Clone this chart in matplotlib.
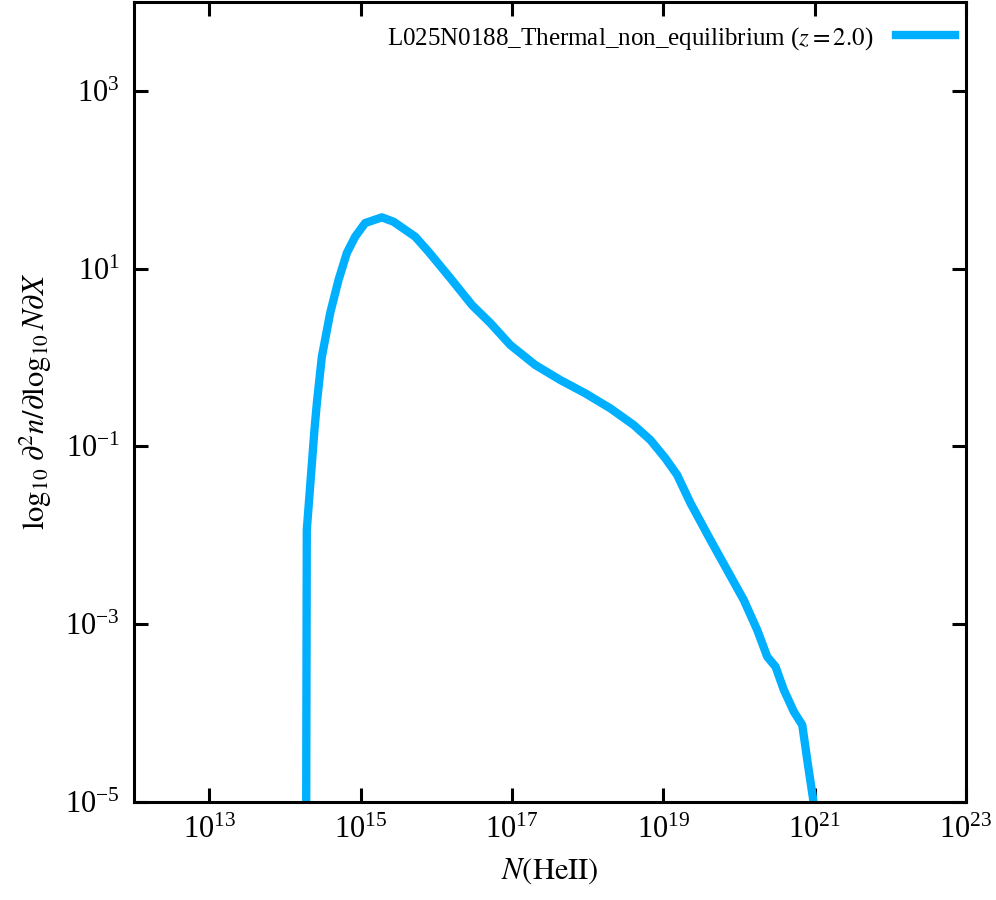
"""
Column density distribution of HeII absorbers.
"""

import numpy as np
import matplotlib
matplotlib.use('Agg')
import matplotlib.pyplot as plt
from matplotlib.ticker import LogLocator, NullLocator

# log10 N(HeII) and log10 of the distribution
log_N = [14.27, 14.288, 14.389, 14.421, 14.487, 14.597, 14.706, 14.817, 14.927,
         15.059, 15.280, 15.434, 15.721, 15.897, 16.184, 16.471, 16.713, 16.978,
         17.308, 17.639, 17.970, 18.300, 18.608, 18.829, 19.027, 19.183, 19.358,
         19.623, 19.865, 20.063, 20.241, 20.373, 20.483, 20.593, 20.725, 20.836,
         20.902, 20.981, 21.01]
log_f = [-9.0, -1.943, -0.818, -0.514, 0.007, 0.499, 0.867, 1.174, 1.358,
         1.512, 1.576, 1.527, 1.358, 1.189, 0.893, 0.589, 0.387, 0.139,
         -0.086, -0.255, -0.405, -0.574, -0.761, -0.930, -1.136, -1.324, -1.639,
         -2.056, -2.427, -2.731, -3.069, -3.369, -3.482, -3.744, -3.988, -4.138,
         -4.532, -4.982, -7.0]

run_label = r'L025N0188_Thermal_non_equilibrium ($z = 2.0$)'

plt.rcParams['font.family'] = ['Liberation Serif', 'DejaVu Serif']
plt.rcParams['mathtext.fontset'] = 'stix'

N = 10.0 ** np.array(log_N)
f = 10.0 ** np.array(log_f)

fig = plt.figure(figsize=(9.96, 9.0), dpi=100)
ax = fig.add_axes([0.1342, 0.1093, 0.8357, 0.8885])

ax.plot(N, f, color='#00b0ff', linewidth=6, label=run_label,
        solid_joinstyle='round')

ax.set_xscale('log')
ax.set_yscale('log')
ax.set_xlim(1e12, 1e23)
ax.set_ylim(1e-5, 1e4)

# labelled ticks every second decade, mirrored on top/right
ax.xaxis.set_major_locator(LogLocator(base=100.0, subs=(10.0,)))
ax.yaxis.set_major_locator(LogLocator(base=100.0, subs=(10.0,)))
ax.xaxis.set_minor_locator(NullLocator())
ax.yaxis.set_minor_locator(NullLocator())

ax.tick_params(which='major', direction='in', top=True, right=True,
               length=10, width=2.2, labelsize=22, pad=10)
for sp in ax.spines.values():
    sp.set_linewidth(2.2)

ax.set_xlabel(r'$N(\mathrm{HeII})$', fontsize=22, labelpad=8)
ax.set_ylabel(r'$\log_{10}\,\partial^{2}n/\partial\log_{10}N\partial X$',
              fontsize=22, labelpad=8)

ax.legend(loc='upper right', bbox_to_anchor=(0.999, 0.984), frameon=False,
          fontsize=18, markerfirst=False, handlelength=2.36,
          handletextpad=0.9, borderaxespad=0.0)

plt.savefig('out.png', dpi=100)
